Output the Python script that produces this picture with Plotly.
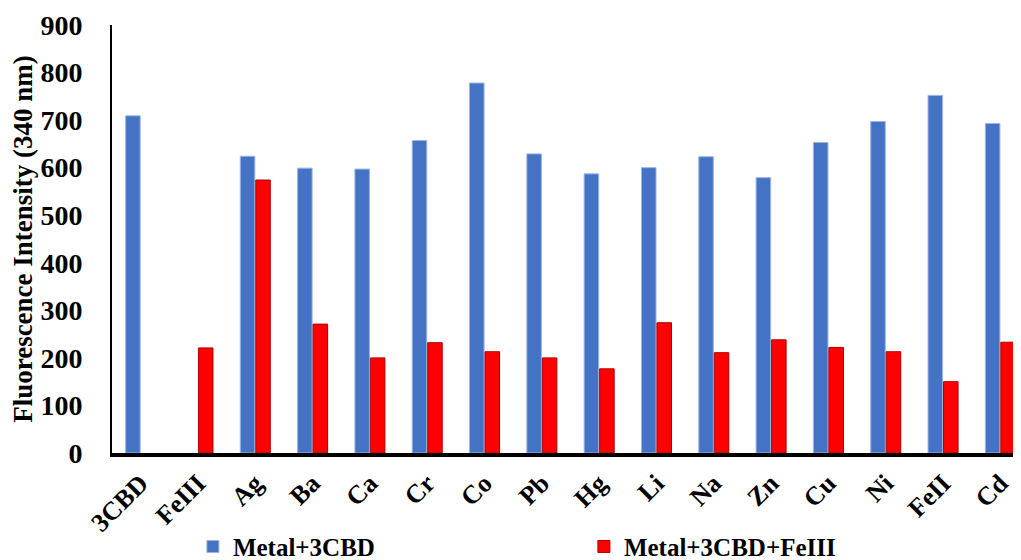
import plotly.graph_objects as go

categories = ["3CBD", "FeIII", "Ag", "Ba", "Ca", "Cr", "Co", "Pb", "Hg", "Li",
              "Na", "Zn", "Cu", "Ni", "FeII", "Cd"]
metal_3cbd = [709, None, 624, 599, 597, 657, 778, 629, 587, 600,
              623, 579, 653, 697, 752, 693]
metal_3cbd_fe3 = [None, 221, 574, 271, 200, 232, 213, 200, 177, 274,
                  211, 238, 222, 213, 150, 233]
y_ticks = [0, 100, 200, 300, 400, 500, 600, 700, 800, 900]

FONT = "Liberation Serif"

fig = go.Figure()
fig.add_trace(go.Bar(
    x=categories, y=metal_3cbd, name="Metal+3CBD",
    marker=dict(color="#4472C4", line=dict(color="#9DB5E2", width=1)),
))
fig.add_trace(go.Bar(
    x=categories, y=metal_3cbd_fe3, name="Metal+3CBD+FeIII",
    marker=dict(color="#FF0000", line=dict(color="#B00000", width=1)),
))

# the page body has an 8px margin, so the figure is sized to fit the window
fig.update_layout(
    width=1013, height=552,
    margin=dict(l=104, r=0, t=17, b=107, autoexpand=False),
    paper_bgcolor="white", plot_bgcolor="white",
    barmode="group", bargap=0.46, bargroupgap=0.06,
    font=dict(family=FONT, size=24, color="black"),
    showlegend=True,
    legend=dict(
        orientation="h", x=0.089, y=-0.219, xanchor="left", yanchor="middle",
        font=dict(family=FONT, size=25, color="black", weight="bold"),
        entrywidth=346, entrywidthmode="pixels",
        bgcolor="rgba(0,0,0,0)",
    ),
)
fig.update_xaxes(
    type="category", range=[-0.5, 15.36],
    showline=True, linecolor="black", linewidth=3.5,
    showgrid=False, ticks="", tickangle=-45,
    tickfont=dict(family=FONT, size=26, color="black", weight="bold"),
    ticklabelstandoff=1, automargin=False,
)
fig.update_yaxes(
    range=[0, 900], tickvals=y_ticks, ticktext=[str(v) for v in y_ticks],
    showline=True, linecolor="black", linewidth=2,
    showgrid=False, ticks="", zeroline=False,
    tickfont=dict(family=FONT, size=28, color="black", weight="bold"),
    ticklabelstandoff=22, automargin=False,
    title=dict(text="Fluorescence Intensity (340 nm)", standoff=9,
               font=dict(family=FONT, size=27, color="black", weight="bold")),
)

fig.write_html("out.html")
